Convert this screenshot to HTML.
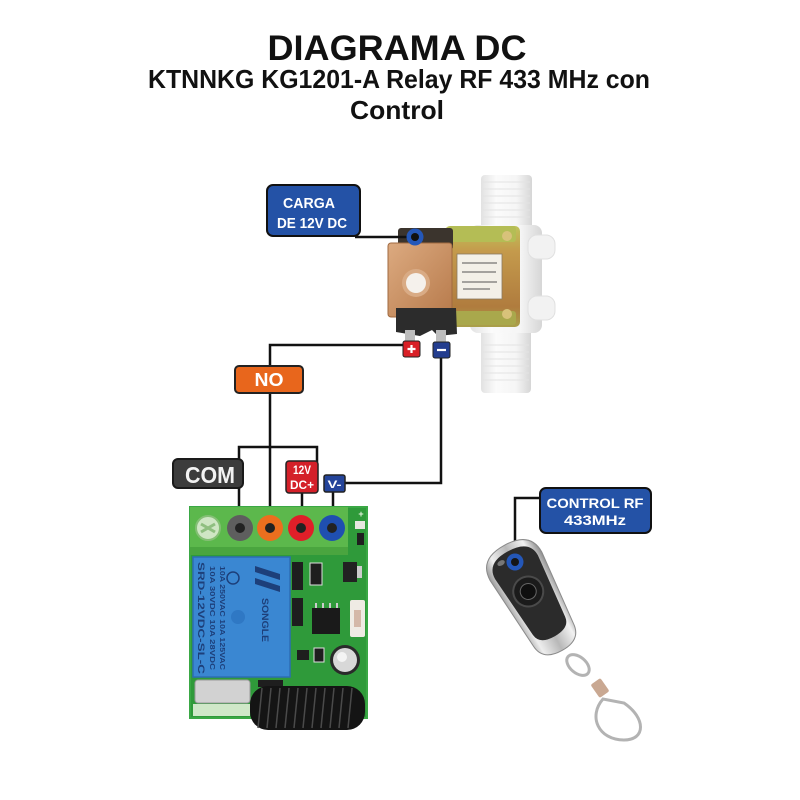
<!DOCTYPE html>
<html><head><meta charset="utf-8"><style>
html,body{margin:0;padding:0;background:#fff}
svg{display:block}
text{font-family:"Liberation Sans",sans-serif;font-weight:bold}
</style></head><body>
<svg width="800" height="800" viewBox="0 0 800 800" xmlns="http://www.w3.org/2000/svg">
<defs>
 <linearGradient id="pipe" x1="0" x2="1" y1="0" y2="0">
  <stop offset="0" stop-color="#e2e2e2"/><stop offset="0.3" stop-color="#fbfbfb"/><stop offset="0.7" stop-color="#f5f5f5"/><stop offset="1" stop-color="#d6d6d6"/>
 </linearGradient>
 <linearGradient id="copper" x1="0" x2="1" y1="0" y2="1">
  <stop offset="0" stop-color="#dcaa80"/><stop offset="1" stop-color="#b77a4b"/>
 </linearGradient>
 <linearGradient id="brass" x1="0" x2="0" y1="0" y2="1">
  <stop offset="0" stop-color="#bfc45a"/><stop offset="0.25" stop-color="#c49a4c"/><stop offset="0.8" stop-color="#b07c3e"/><stop offset="1" stop-color="#a9a04a"/>
 </linearGradient>
 <linearGradient id="chrome" x1="0" x2="1" y1="0" y2="0">
  <stop offset="0" stop-color="#9a9a9a"/><stop offset="0.2" stop-color="#eeeeee"/><stop offset="0.5" stop-color="#b8b8b8"/><stop offset="0.8" stop-color="#f2f2f2"/><stop offset="1" stop-color="#8c8c8c"/>
 </linearGradient>
</defs>
<rect width="800" height="800" fill="#fff"/>

<!-- Title -->
<text x="397" y="60" font-size="35" text-anchor="middle" textLength="259" lengthAdjust="spacingAndGlyphs" fill="#111">DIAGRAMA DC</text>
<text x="399" y="88" font-size="26" text-anchor="middle" textLength="502" lengthAdjust="spacingAndGlyphs" fill="#111">KTNNKG KG1201-A Relay RF 433 MHz con</text>
<text x="397" y="119" font-size="26" text-anchor="middle" textLength="94" lengthAdjust="spacingAndGlyphs" fill="#111">Control</text>

<!-- Solenoid valve -->
<rect x="481" y="175" width="51" height="62" rx="4" fill="url(#pipe)"/>
<g stroke="#e3e3e3" stroke-width="1">
 <line x1="483" y1="182" x2="530" y2="182"/><line x1="483" y1="189" x2="530" y2="189"/><line x1="483" y1="196" x2="530" y2="196"/><line x1="483" y1="203" x2="530" y2="203"/><line x1="483" y1="210" x2="530" y2="210"/><line x1="483" y1="217" x2="530" y2="217"/>
</g>
<rect x="481" y="322" width="50" height="71" rx="4" fill="url(#pipe)"/>
<g stroke="#e3e3e3" stroke-width="1">
 <line x1="483" y1="345" x2="529" y2="345"/><line x1="483" y1="352" x2="529" y2="352"/><line x1="483" y1="359" x2="529" y2="359"/><line x1="483" y1="366" x2="529" y2="366"/><line x1="483" y1="373" x2="529" y2="373"/><line x1="483" y1="380" x2="529" y2="380"/>
</g>
<rect x="470" y="225" width="72" height="108" rx="8" fill="url(#pipe)"/>
<rect x="528" y="235" width="27" height="24" rx="9" fill="#f2f2f2" stroke="#e0e0e0"/>
<rect x="528" y="296" width="27" height="24" rx="9" fill="#f2f2f2" stroke="#e0e0e0"/>
<rect x="445" y="226" width="75" height="101" rx="5" fill="url(#brass)"/>
<rect x="448" y="226" width="68" height="16" rx="3" fill="#b4bd55"/>
<rect x="448" y="311" width="68" height="14" rx="3" fill="#a9a84c"/>
<circle cx="507" cy="236" r="5" fill="#d8c27a"/>
<circle cx="507" cy="314" r="5" fill="#d8c27a"/>
<rect x="457" y="254" width="45" height="45" fill="#f3f0e8" stroke="#8a7a60" stroke-width="0.8"/>
<g stroke="#555" stroke-width="1">
 <line x1="462" y1="263" x2="497" y2="263"/><line x1="462" y1="272" x2="496" y2="272"/><line x1="462" y1="282" x2="497" y2="282"/><line x1="463" y1="289" x2="490" y2="289"/>
</g>
<rect x="398" y="228" width="55" height="22" rx="3" fill="#3b342d"/>
<rect x="388" y="243" width="64" height="74" rx="3" fill="url(#copper)"/>
<rect x="388" y="243" width="64" height="74" rx="3" fill="none" stroke="#a06a40" stroke-width="1"/>
<circle cx="416" cy="283" r="14" fill="#d9ab85"/>
<circle cx="416" cy="283" r="10" fill="#f5f1ec"/>
<path d="M396 308 L456 308 L457 334 L438 336 L432 330 L420 336 L396 332 Z" fill="#2c2c2c"/>
<rect x="405" y="330" width="10" height="12" fill="#bdbdbd"/>
<rect x="436" y="330" width="10" height="13" fill="#bdbdbd"/>

<!-- Wires -->
<g stroke="#111" stroke-width="2.5" fill="none">
 <path d="M355 237 H415"/>
 <path d="M404 345 H270 V528"/>
 <path d="M441 357 V483 H345"/>
 <path d="M239 528 V447 H317 V462"/>
 <path d="M302 492 V528"/>
 <path d="M333 491 V528"/>
 <path d="M541 498 H515 V562"/>
</g>

<!-- Solenoid connection points -->
<circle cx="415" cy="237" r="8.5" fill="#2457b8"/>
<circle cx="415" cy="237" r="4" fill="#111"/>
<rect x="403" y="341" width="17" height="16" rx="2" fill="#d92027" stroke="#222" stroke-width="1"/>
<path d="M407.5 349 H415.5 M411.5 345 V353" stroke="#fff" stroke-width="2.2"/>
<rect x="433" y="342" width="17" height="16" rx="2" fill="#233d8f" stroke="#222" stroke-width="1"/>
<path d="M437 350 H446" stroke="#fff" stroke-width="2.2"/>

<!-- CARGA label -->
<rect x="267" y="185" width="93" height="51" rx="6" fill="#2452a6" stroke="#111" stroke-width="2"/>
<text x="309" y="208" font-size="15" text-anchor="middle" fill="#fff" textLength="52" lengthAdjust="spacingAndGlyphs">CARGA</text>
<text x="312" y="228" font-size="15" text-anchor="middle" fill="#fff" textLength="70" lengthAdjust="spacingAndGlyphs">DE 12V DC</text>

<!-- NO label -->
<rect x="235" y="366" width="68" height="27" rx="4" fill="#e8661c" stroke="#222" stroke-width="2"/>
<text x="269" y="386" font-size="18" text-anchor="middle" fill="#fff" textLength="29" lengthAdjust="spacingAndGlyphs">NO</text>

<!-- COM label -->
<rect x="173" y="459" width="70" height="29" rx="5" fill="#3c3c3c" stroke="#1a1a1a" stroke-width="2"/>
<text x="210" y="483" font-size="23" text-anchor="middle" fill="#f2f2f2" textLength="50" lengthAdjust="spacingAndGlyphs">COM</text>

<!-- 12V DC+ label -->
<rect x="286" y="461" width="32" height="32" rx="3" fill="#d42029" stroke="#222" stroke-width="1.5"/>
<text x="302" y="474" font-size="12" text-anchor="middle" fill="#fff" textLength="18" lengthAdjust="spacingAndGlyphs">12V</text>
<text x="302" y="489" font-size="12" text-anchor="middle" fill="#fff" textLength="24" lengthAdjust="spacingAndGlyphs">DC+</text>

<!-- V- label -->
<rect x="324" y="475" width="21" height="17" rx="2" fill="#24449a" stroke="#222" stroke-width="1.5"/>
<text x="334.5" y="488" font-size="11" text-anchor="middle" fill="#fff" textLength="14" lengthAdjust="spacingAndGlyphs">V-</text>

<!-- PCB -->
<rect x="190" y="507" width="177" height="211" fill="#2f9a3a"/>
<rect x="190" y="507" width="177" height="211" fill="none" stroke="#3aa845" stroke-width="2"/>
<rect x="190" y="507" width="158" height="48" fill="#5cb84c"/>
<rect x="190" y="547" width="158" height="8" fill="#4aa53f"/>
<circle cx="208" cy="528" r="12" fill="#cfe6c4" stroke="#84bf74" stroke-width="2"/>
<path d="M201 524 L215 532 M201 532 L215 524" stroke="#8fbf80" stroke-width="3"/>
<circle cx="240" cy="528" r="13" fill="#5e5e5e"/><circle cx="240" cy="528" r="5" fill="#222"/>
<circle cx="270" cy="528" r="13" fill="#ec6f1e"/><circle cx="270" cy="528" r="5" fill="#222"/>
<circle cx="301" cy="528" r="13" fill="#e01f29"/><circle cx="301" cy="528" r="5" fill="#222"/>
<circle cx="332" cy="528" r="13" fill="#1f4fb0"/><circle cx="332" cy="528" r="5" fill="#222"/>
<text x="361" y="517" font-size="9" fill="#e8f5e0" text-anchor="middle">+</text>
<rect x="355" y="521" width="10" height="8" fill="#e8e8e0"/>
<rect x="357" y="533" width="7" height="12" fill="#1f1f1f"/>
<!-- Relay -->
<rect x="193" y="557" width="97" height="120" fill="#3a87d2" stroke="#2c6cb4" stroke-width="1.5"/>
<circle cx="238" cy="617" r="7" fill="#2f78c4"/>
<g fill="#1d3f7a" font-size="9">
 <text transform="translate(198,562) rotate(90)" textLength="112" lengthAdjust="spacingAndGlyphs">SRD-12VDC-SL-C</text>
 <text transform="translate(210,566) rotate(90)" font-size="7" textLength="104" lengthAdjust="spacingAndGlyphs">10A 30VDC  10A 28VDC</text>
 <text transform="translate(220,566) rotate(90)" font-size="7" textLength="104" lengthAdjust="spacingAndGlyphs">10A 250VAC 10A 125VAC</text>
 <text transform="translate(262,598) rotate(90)" font-size="9" textLength="44" lengthAdjust="spacingAndGlyphs">SONGLE</text>
</g>
<path d="M255 566 L280 574 L280 580 L255 572 Z M255 578 L280 586 L280 592 L255 584 Z" fill="#1d3f7a"/>
<circle cx="233" cy="578" r="6" fill="none" stroke="#1d3f7a" stroke-width="1.5"/>
<!-- components -->
<rect x="292" y="562" width="11" height="28" fill="#1e1e1e"/>
<rect x="292" y="598" width="11" height="28" fill="#1e1e1e"/>
<rect x="310" y="563" width="12" height="22" fill="#1e1e1e" stroke="#ddd" stroke-width="1"/>
<rect x="343" y="562" width="14" height="20" fill="#222"/>
<rect x="357" y="566" width="5" height="12" fill="#ccc"/>
<rect x="312" y="608" width="28" height="26" fill="#1a1a1a"/>
<g stroke="#ccc" stroke-width="2">
 <line x1="316" y1="603" x2="316" y2="608"/><line x1="323" y1="603" x2="323" y2="608"/><line x1="330" y1="603" x2="330" y2="608"/><line x1="337" y1="603" x2="337" y2="608"/>
</g>
<rect x="350" y="600" width="15" height="37" rx="2" fill="#efebe4"/>
<rect x="354" y="610" width="7" height="17" fill="#d4b8a8"/>
<rect x="297" y="650" width="12" height="10" fill="#1e1e1e"/>
<rect x="314" y="648" width="10" height="14" fill="#1e1e1e" stroke="#ddd" stroke-width="1"/>
<circle cx="345" cy="660" r="15" fill="#2a2a2a"/>
<circle cx="345" cy="660" r="12" fill="#d8d8d8"/>
<circle cx="342" cy="657" r="5" fill="#f4f4f4"/>
<rect x="195" y="680" width="55" height="23" rx="3" fill="#d2d2d2" stroke="#999" stroke-width="1"/>
<rect x="193" y="704" width="57" height="12" fill="#cfe8c8"/>
<rect x="258" y="680" width="25" height="7" fill="#1e1e1e"/>
<!-- antenna coil -->
<rect x="250" y="686" width="115" height="44" rx="18" fill="#141414"/>
<g stroke="#4a4a4a" stroke-width="1.5">
 <line x1="262" y1="688" x2="258" y2="728"/><line x1="271" y1="688" x2="267" y2="728"/><line x1="280" y1="688" x2="276" y2="728"/><line x1="289" y1="688" x2="285" y2="728"/><line x1="298" y1="688" x2="294" y2="728"/><line x1="307" y1="688" x2="303" y2="728"/><line x1="316" y1="688" x2="312" y2="728"/><line x1="325" y1="688" x2="321" y2="728"/><line x1="334" y1="688" x2="330" y2="728"/><line x1="343" y1="688" x2="339" y2="728"/><line x1="352" y1="688" x2="348" y2="728"/>
</g>

<!-- Remote -->
<g transform="rotate(-29 533 598)">
 <path d="M504 562 Q504 538 533 538 Q563 538 563 562 L556 640 Q555 658 533 658 Q511 658 510 640 Z" fill="url(#chrome)" stroke="#8a8a8a" stroke-width="1"/>
 <path d="M509 563 Q509 545 533 545 Q558 545 558 563 L552 630 Q551 642 533 642 Q516 642 515 630 Z" fill="#2b2b2b"/>
 <circle cx="532" cy="590" r="15" fill="#1b1b1b" stroke="#4a4a4a" stroke-width="2"/>
 <circle cx="532" cy="590" r="8" fill="#0f0f0f" stroke="#666" stroke-width="1"/>
 <ellipse cx="522" cy="552" rx="4" ry="2.5" fill="#777"/>
</g>
<circle cx="515" cy="562" r="8.5" fill="#2457b8"/>
<circle cx="515" cy="562" r="4" fill="#151515"/>
<!-- keyring -->
<g fill="none" stroke="#b3b3b3" stroke-width="3">
 <ellipse cx="578" cy="665" rx="13" ry="8" transform="rotate(40 578 665)"/>
 <path d="M603 699 C588 716 598 740 624 740 C646 740 646 718 624 703 Z"/>
</g>
<rect x="594" y="680" width="12" height="16" rx="2" fill="#c9a892" transform="rotate(-35 600 688)"/>

<!-- CONTROL RF label -->
<rect x="540" y="488" width="111" height="45" rx="6" fill="#2452a6" stroke="#111" stroke-width="2"/>
<text x="595" y="508" font-size="14" text-anchor="middle" fill="#fff" textLength="97" lengthAdjust="spacingAndGlyphs">CONTROL RF</text>
<text x="595" y="525" font-size="14" text-anchor="middle" fill="#fff" textLength="62" lengthAdjust="spacingAndGlyphs">433MHz</text>
</svg>
</body></html>
